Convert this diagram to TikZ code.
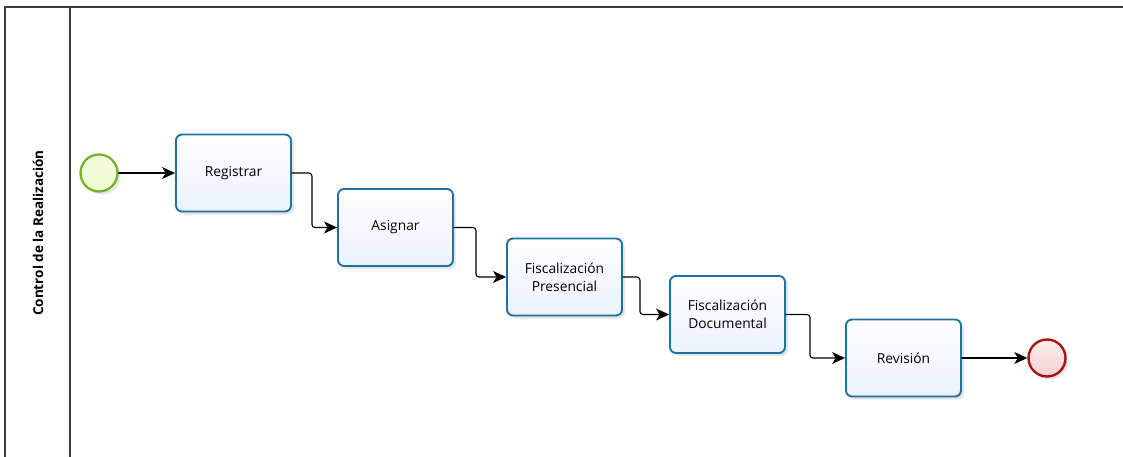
\documentclass[tikz,border=0pt]{standalone}
\usepackage{fontspec}
\setmainfont{Open Sans}
\usetikzlibrary{arrows.meta,shadows}
\definecolor{taskline}{RGB}{32,112,160}
\definecolor{taskfill}{RGB}{236,241,252}
\definecolor{startline}{RGB}{110,180,40}
\definecolor{startfill}{RGB}{238,250,205}
\definecolor{endline}{RGB}{170,20,20}
\definecolor{endfill}{RGB}{246,210,212}
\definecolor{poolline}{RGB}{60,60,60}
\begin{document}
\begin{tikzpicture}[x=1pt, y=-1pt, line join=round, line cap=round, >={Stealth[length=13pt, width=12pt, inset=3.5pt]},
	task/.style={draw=taskline, line width=1.9pt, rounded corners=6pt, top color=white, bottom color=taskfill,
		minimum width=115pt, minimum height=77pt, align=center, font=\fontsize{13.8}{18}\selectfont,
		drop shadow={shadow xshift=3pt, shadow yshift=-3pt, opacity=0.2}},
	startev/.style={circle, draw=startline, line width=2.2pt, inner sep=0pt, minimum size=37pt,
		top color=startfill!60!white, bottom color=startfill,
		drop shadow={shadow xshift=3pt, shadow yshift=-3pt, opacity=0.2}},
	endev/.style={circle, draw=endline, line width=2.4pt, inner sep=0pt, minimum size=37pt,
		top color=endfill!40!white, bottom color=endfill,
		drop shadow={shadow xshift=3pt, shadow yshift=-3pt, opacity=0.2}},
	flow/.style={->, line width=1.1pt, rounded corners=3pt}]
	\useasboundingbox (0,0) rectangle (1123,457);
	
	% pool and lane
	\draw[poolline, line width=1.5pt]
		(5,460) -- (5,7) -- (1125,7)
		(70,7) -- (70,460)
	;
	\node[rotate=90, font=\bfseries\fontsize{13.5}{16}\selectfont] (lane) at (38,233) {Control de la Realización};
	
	% events and tasks
	\node[startev] (inicio) at (99,173) {};
	\node[task] (reg) at (233.5,173) {Registrar};
	\node[task] (asig) at (395.5,227.5) {Asignar};
	\node[task] (pres) at (564.5,277) {Fiscalización\\Presencial};
	\node[task] (doc) at (727.5,314.5) {Fiscalización\\Documental};
	\node[task] (rev) at (903.5,358) {Revisión};
	\node[endev] (fin) at (1047,358) {};
	
	% sequence flows
	\draw[flow] (inicio) -- (reg);
	\foreach \a/\b/\d in {reg/asig/20, asig/pres/22, pres/doc/17, doc/rev/24}{
		\draw[flow] (\a.east) -- ++(\d,0) |- (\b.west);
	};
	\draw[flow] (rev) -- (fin);
	
\end{tikzpicture}
\end{document}
